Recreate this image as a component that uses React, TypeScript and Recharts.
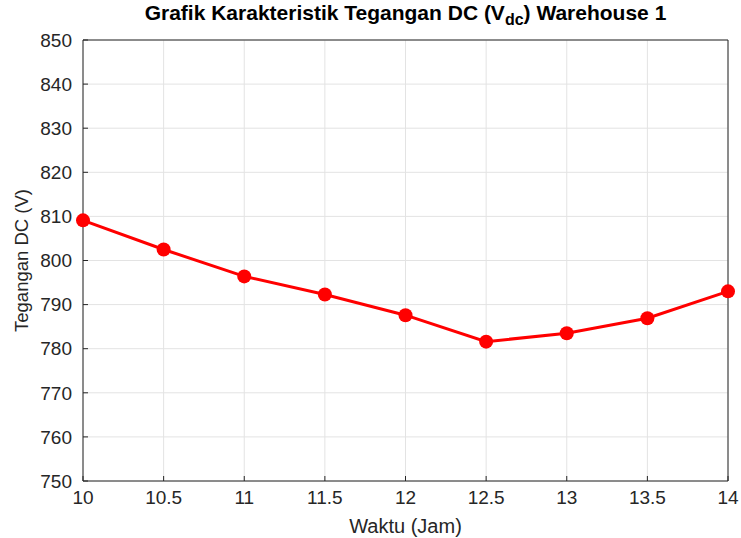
import { CartesianGrid, Label, Line, LineChart, ReferenceLine, XAxis, YAxis } from "recharts";

const hours = [10, 10.5, 11, 11.5, 12, 12.5, 13, 13.5, 14];
const vdc = [809.1, 802.5, 796.4, 792.3, 787.6, 781.6, 783.5, 786.9, 793];
const xTicks = [10, 10.5, 11, 11.5, 12, 12.5, 13, 13.5, 14];
const yTicks = [750, 760, 770, 780, 790, 800, 810, 820, 830, 840, 850];

const data = hours.map((h, i) => ({ h, v: vdc[i] }));

const axisColor = "#262626";
const font = "'Liberation Sans', Arial, sans-serif";

export default function App() {
  return (
    <div style={{ position: "absolute", left: 0, top: 0, width: 741, height: 538, background: "#fff", fontFamily: font }}>
      <div
        style={{
          position: "absolute",
          left: 83,
          width: 645,
          top: 1,
          textAlign: "center",
          fontSize: 21,
          fontWeight: "bold",
          color: "#000",
          whiteSpace: "nowrap",
        }}
      >
        Grafik Karakteristik Tegangan DC (V<sub style={{ fontSize: 16 }}>dc</sub>) Warehouse 1
      </div>
      <LineChart width={741} height={538} data={data} margin={{ top: 40, right: 13, left: 0, bottom: 0 }}>
        <CartesianGrid stroke="#e3e3e3" vertical horizontal />
        <XAxis
          dataKey="h"
          type="number"
          domain={[10, 14]}
          ticks={xTicks}
          height={57}
          stroke={axisColor}
          tickSize={-5}
          tickMargin={15}
          tick={{ fontSize: 19, fill: axisColor, fontFamily: font }}
        >
          <Label value="Waktu (Jam)" position="insideBottom" offset={5} style={{ fontSize: 20, fill: axisColor, fontFamily: font }} />
        </XAxis>
        <YAxis
          type="number"
          domain={[750, 850]}
          ticks={yTicks}
          width={83}
          stroke={axisColor}
          tickSize={-5}
          tickMargin={16}
          interval={0}
          tick={{ fontSize: 19, fill: axisColor, fontFamily: font }}
        >
          <Label
            value="Tegangan DC (V)"
            angle={-90}
            position="insideLeft"
            offset={21}
            style={{ textAnchor: "middle", fontSize: 18.5, fill: axisColor, fontFamily: font }}
          />
        </YAxis>
        <ReferenceLine y={850} stroke={axisColor} />
        <ReferenceLine x={14} stroke={axisColor} />
        <Line
          dataKey="v"
          stroke="#ff0000"
          strokeWidth={3}
          dot={{ r: 7, fill: "#ff0000", stroke: "#ff0000", strokeWidth: 0 }}
          activeDot={false}
          isAnimationActive={false}
        />
      </LineChart>
    </div>
  );
}
